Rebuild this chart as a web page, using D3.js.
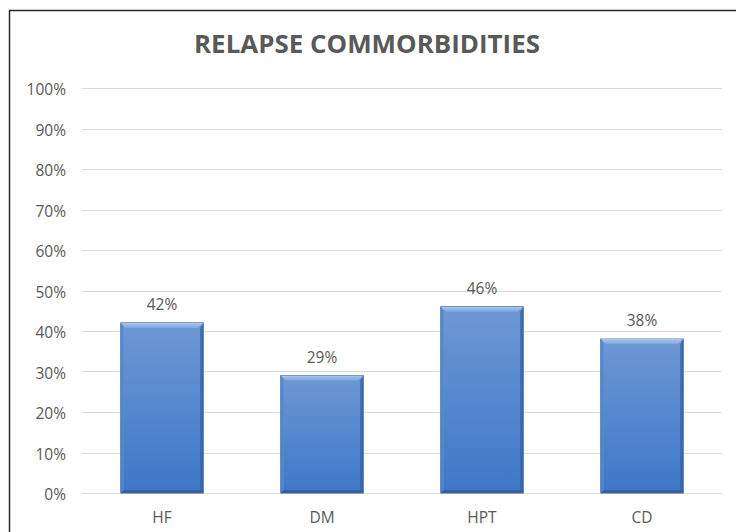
<!DOCTYPE html>
<html>
<head>
<meta charset="utf-8">
<script src="https://cdn.jsdelivr.net/npm/d3@7"></script>
<style>
  html, body { margin: 0; padding: 0; background: #ffffff; }
  svg { display: block; }
</style>
</head>
<body>
<svg id="chart" width="736" height="532"></svg>
<script>
// Relapse commorbidities, share of patients per condition
const categories = ["HF", "DM", "HPT", "CD"];
const values = [0.42, 0.29, 0.46, 0.38];
const yTicks = [0, 0.1, 0.2, 0.3, 0.4, 0.5, 0.6, 0.7, 0.8, 0.9, 1.0];
const title = "RELAPSE COMMORBIDITIES";

const W = 736, H = 532;
const svg = d3.select("#chart");
const font = "'Open Sans', 'Liberation Sans', sans-serif";
const textGray = "#595959";

// outer frame (runs past the right and bottom edges)
svg.append("rect")
  .attr("x", 9.5).attr("y", 10.5)
  .attr("width", W + 20).attr("height", H + 20)
  .attr("fill", "#ffffff")
  .attr("stroke", "#2b2b2b").attr("stroke-width", 1.5);

const x = d3.scaleBand()
  .domain(categories)
  .range([82, 722])
  .paddingInner(0.485)
  .paddingOuter(0.2425);

const y = d3.scaleLinear().domain([0, 1]).range([493, 88]);

// gridlines
svg.append("g")
  .selectAll("line")
  .data(yTicks)
  .join("line")
  .attr("x1", 82).attr("x2", 722)
  .attr("y1", d => Math.round(y(d)) + 0.5)
  .attr("y2", d => Math.round(y(d)) + 0.5)
  .attr("stroke", "#d9d9d9").attr("stroke-width", 1);

// y axis labels
const yAxis = d3.axisLeft(y).tickValues(yTicks).tickFormat(d3.format(".0%")).tickSize(0).tickPadding(0);
const gy = svg.append("g").attr("transform", "translate(66,2)").call(yAxis);
gy.select(".domain").remove();
gy.selectAll("text")
  .attr("fill", textGray)
  .style("font-family", font)
  .style("font-size", "15.5px");

// x axis labels
const xAxis = d3.axisBottom(x).tickSize(0).tickPadding(0);
const gx = svg.append("g").attr("transform", "translate(0,512)").call(xAxis);
gx.select(".domain").remove();
gx.selectAll("text")
  .attr("fill", textGray)
  .style("font-family", font)
  .style("font-size", "15.5px");

// bar gradient
const defs = svg.append("defs");
const grad = defs.append("linearGradient")
  .attr("id", "barFill").attr("x1", 0).attr("y1", 0).attr("x2", 0).attr("y2", 1);
grad.append("stop").attr("offset", "0%").attr("stop-color", "#6d98d5");
grad.append("stop").attr("offset", "100%").attr("stop-color", "#3e77c7");

const topGrad = defs.append("linearGradient")
  .attr("id", "bevelTop").attr("x1", 0).attr("y1", 0).attr("x2", 0).attr("y2", 1);
topGrad.append("stop").attr("offset", "0%").attr("stop-color", "#acc6ea");
topGrad.append("stop").attr("offset", "100%").attr("stop-color", "#7ea5dc");

const data = categories.map((c, i) => ({ c, v: values[i] }));
const bw = x.bandwidth();
const bev = 5;

const bars = svg.append("g").selectAll("g").data(data).join("g");

bars.append("rect")
  .attr("x", d => x(d.c))
  .attr("y", d => y(d.v))
  .attr("width", bw)
  .attr("height", d => y(0) - y(d.v))
  .attr("fill", "url(#barFill)")
  .attr("stroke", "#3b68aa").attr("stroke-width", 1);

// bevel: lighter top, darker sides and base
bars.append("polygon")
  .attr("points", d => {
    const x0 = x(d.c), x1 = x0 + bw, t = y(d.v);
    return [[x0, t], [x1, t], [x1 - bev, t + bev], [x0 + bev, t + bev]].join(" ");
  })
  .attr("fill", "url(#bevelTop)");

bars.append("polygon")
  .attr("points", d => {
    const x0 = x(d.c), t = y(d.v), b = y(0);
    return [[x0, t], [x0 + bev - 2, t + bev], [x0 + bev - 2, b - 3], [x0, b]].join(" ");
  })
  .attr("fill", "#5b87c8").attr("opacity", 0.8);

bars.append("polygon")
  .attr("points", d => {
    const x1 = x(d.c) + bw, t = y(d.v), b = y(0);
    return [[x1, t], [x1 - bev + 2, t + bev], [x1 - bev + 2, b - 3], [x1, b]].join(" ");
  })
  .attr("fill", "#3563a6").attr("opacity", 0.8);

bars.append("polygon")
  .attr("points", d => {
    const x0 = x(d.c), x1 = x0 + bw, b = y(0);
    return [[x0, b], [x0 + 3, b - 3], [x1 - 3, b - 3], [x1, b]].join(" ");
  })
  .attr("fill", "#2f5c9e").attr("opacity", 0.8);

// value labels
bars.append("text")
  .attr("x", d => x(d.c) + bw / 2)
  .attr("y", d => y(d.v) - 13)
  .attr("text-anchor", "middle")
  .attr("fill", textGray)
  .style("font-family", font)
  .style("font-size", "15.5px")
  .text(d => d3.format(".0%")(d.v));

// title
svg.append("text")
  .attr("x", 367).attr("y", 53)
  .attr("text-anchor", "middle")
  .attr("fill", textGray)
  .style("font-family", font)
  .style("font-weight", "bold")
  .style("font-size", "25px")
  .attr("textLength", 346)
  .attr("lengthAdjust", "spacingAndGlyphs")
  .text(title);
</script>
</body>
</html>
